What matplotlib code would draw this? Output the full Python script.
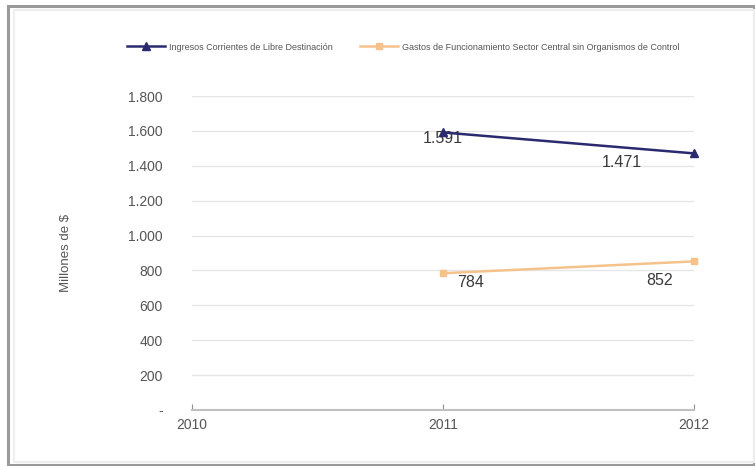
import matplotlib
matplotlib.use("Agg")
import matplotlib.pyplot as plt
from matplotlib.patches import Rectangle
from matplotlib.ticker import FuncFormatter

# data
years = [2011, 2012]
ingresos = [1591, 1471]
gastos = [784, 852]
label_ingresos = "Ingresos Corrientes de Libre Destinación"
label_gastos = "Gastos de Funcionamiento Sector Central sin Organismos de Control"
yticks = [0, 200, 400, 600, 800, 1000, 1200, 1400, 1600, 1800]
xticks = [2010, 2011, 2012]

blue = "#2b2a6e"
orange = "#f5c28c"
txt = "#555555"

plt.rcParams['font.family'] = ['Liberation Sans', 'DejaVu Sans']

fig = plt.figure(figsize=(7.55, 4.66), dpi=100)
W, H = 755, 466

# outer frame
fig.patches.append(Rectangle((8 / W, 1 - 465 / H), 746 / W, 459 / H, transform=fig.transFigure,
                             fill=False, edgecolor="#9a9a9a", linewidth=2.2))
fig.patches.append(Rectangle((14 / W, 1 - 462 / H), 740 / W, 452 / H, transform=fig.transFigure,
                             fill=False, edgecolor="#eeeeee", linewidth=1.5))

ax = fig.add_axes([192 / W, 1 - 410 / H, 502 / W, 314 / H])

ln1, = ax.plot(years, ingresos, color=blue, lw=1.8, marker="^", ms=6, clip_on=False, zorder=4)
ln2, = ax.plot(years, gastos, color=orange, lw=1.8, marker="s", ms=4, clip_on=False, zorder=4)


def fmt(v, pos=None):
    if v == 0:
        return "-"
    return "{:,.0f}".format(v).replace(",", ".")


ax.set_xlim(2010, 2012)
ax.set_ylim(0, 1800)
ax.set_yticks(yticks)
ax.set_xticks(xticks)
ax.yaxis.set_major_formatter(FuncFormatter(fmt))
ax.grid(axis="y", color="#e6e6e6", lw=1)
ax.set_axisbelow(True)
for s in ["top", "right", "left"]:
    ax.spines[s].set_visible(False)
ax.spines["bottom"].set_color("#c0c0c0")
ax.spines["bottom"].set_linewidth(1.5)
ax.tick_params(axis="y", length=0, pad=21, labelsize=10, labelcolor=txt)
ax.tick_params(axis="x", direction="in", length=4, color="#909090", pad=6, labelsize=10, labelcolor=txt)
ax.set_ylabel("Millones de $", fontsize=9.5, color=txt)
ax.yaxis.set_label_coords(-0.24, 0.5)

# data labels
offsets_ing = [(0, -4.5), (-52, -6.5)]
offsets_gas = [(20, -7), (-24.5, -14)]
for x, y, off in zip(years, ingresos, offsets_ing):
    ax.annotate(fmt(y), (x, y), xytext=off, textcoords="offset points", ha="center", va="center",
                fontsize=11.5, color="#3a3a3a", zorder=3)
for x, y, off in zip(years, gastos, offsets_gas):
    ax.annotate(fmt(y), (x, y), xytext=off, textcoords="offset points", ha="center", va="center",
                fontsize=11.5, color="#3a3a3a", zorder=3)

fig.legend([ln1, ln2], [label_ingresos, label_gastos], loc="center left",
           bbox_to_anchor=(119 / W, 1 - 47 / H), ncol=2, frameon=False, fontsize=6.5,
           handlelength=4.2, handletextpad=0.45, columnspacing=3.0, labelcolor=txt)

fig.savefig("out.png", dpi=100)
